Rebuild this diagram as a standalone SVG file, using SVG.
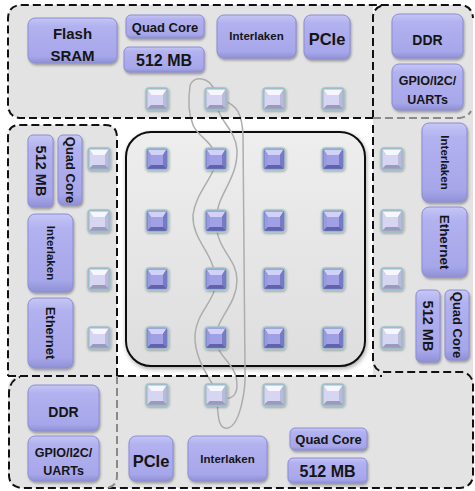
<svg xmlns="http://www.w3.org/2000/svg" width="475" height="491" viewBox="0 0 475 491">
<style>
.reg{fill:#e3e3e3}
.dash{fill:none;stroke:#111;stroke-width:2;stroke-dasharray:8 4}
.dashg{fill:none;stroke:#8a8a8a;stroke-width:2;stroke-dasharray:8 4}
.box{fill:url(#boxg);stroke:#8c8cd4;stroke-width:1;filter:url(#sh)}
.t{font-family:"Liberation Sans",Arial,sans-serif;font-weight:bold;fill:#151515;text-anchor:middle}
.wire{fill:none;stroke:#adadad;stroke-width:1.5}
</style>
<defs>
<linearGradient id="boxg" x1="0" y1="0" x2="0" y2="1">
<stop offset="0" stop-color="#c6c6f6"/>
<stop offset="0.18" stop-color="#b2b2f0"/>
<stop offset="0.85" stop-color="#a6a6ea"/>
<stop offset="1" stop-color="#9090d6"/>
</linearGradient>
<linearGradient id="frameg" x1="0" y1="0" x2="0" y2="1">
<stop offset="0" stop-color="#eeeeee"/>
<stop offset="0.5" stop-color="#e6e6e6"/>
<stop offset="1" stop-color="#dedede"/>
</linearGradient>
<filter id="sh" x="-20%" y="-20%" width="140%" height="150%">
<feDropShadow dx="1" dy="2" stdDeviation="1.2" flood-color="#444" flood-opacity="0.45"/>
</filter>
<filter id="fsh" x="-10%" y="-10%" width="120%" height="120%">
<feDropShadow dx="1" dy="2" stdDeviation="2" flood-color="#333" flood-opacity="0.4"/>
</filter>
<filter id="ssh" x="-30%" y="-30%" width="160%" height="160%">
<feDropShadow dx="0.5" dy="1" stdDeviation="0.8" flood-color="#333" flood-opacity="0.4"/>
</filter>
<g id="sqc" filter="url(#ssh)">
<rect x="-11" y="-11" width="22" height="22" rx="3" fill="#7474c0" stroke="#a4cacc" stroke-width="1.3"/>
<polygon points="-9.5,-9.5 9.5,-9.5 6,-4 -6,-4" fill="#d2d2f8"/>
<polygon points="-9.5,-9.5 -6,-4 -6,6 -9.5,9.5" fill="#9a9ade"/>
<polygon points="9.5,-9.5 6,-4 6,6 9.5,9.5" fill="#7a7ac4"/>
<polygon points="-9.5,9.5 -6,6 6,6 9.5,9.5" fill="#6262aa"/>
<rect x="-6" y="-4" width="12" height="10" fill="#a0a0e6"/>
</g>
<g id="sqp" filter="url(#ssh)">
<rect x="-11" y="-11" width="22" height="22" rx="3" fill="#ababcc" stroke="#9cc4c6" stroke-width="1.3"/>
<polygon points="-9.5,-9.5 9.5,-9.5 6,-4 -6,-4" fill="#f6f6ff"/>
<polygon points="-9.5,-9.5 -6,-4 -6,6 -9.5,9.5" fill="#d6d6f0"/>
<polygon points="9.5,-9.5 6,-4 6,6 9.5,9.5" fill="#babada"/>
<polygon points="-9.5,9.5 -6,6 6,6 9.5,9.5" fill="#9a9abc"/>
<rect x="-6" y="-4" width="12" height="10" fill="#d6d6f2"/>
</g>
</defs>
<rect width="475" height="491" fill="#ffffff"/>
<g id="regions">
<path class="reg" d="M22,5 H373 V118 H22 Q8,118 8,104 V19 Q8,5 22,5 Z"/>
<path class="reg" d="M387,5 H460 Q473,5 473,18 V380 H373 V19 Q373,5 387,5 Z"/>
<path class="reg" d="M20,125 H105 Q117,125 117,137 V377 H8 V137 Q8,125 20,125 Z"/>
<path class="reg" d="M22,376 H473 V474 Q473,488 459,488 H22 Q8,488 8,474 V390 Q8,376 22,376 Z"/>
</g>
<g id="core">
<rect x="126" y="132" width="239" height="234" rx="25" fill="url(#frameg)" stroke="#111" stroke-width="2" filter="url(#fsh)"/>
</g>
<g id="connectors">
<path class="wire" d="M214,90 C211,78 193,74 190,86 C188,100 189,115 193,125 C198,137 211,140 216,155 C218,175 196,190 193,215 C192,240 213,252 216,279 C217,300 196,312 195,335 C194,355 205,372 216,390"/>
<path class="wire" d="M217,105 C218,120 236,130 237,150 C238,180 216,195 216,221 C216,250 237,258 237,280 C237,305 216,318 216,338 C216,358 237,362 237,385 C237,395 232,400 222,398"/>
<path class="wire" d="M222,100 C238,105 242,115 243,135 L245,370 C246,390 240,425 228,428 C218,430 218,415 217,400"/>
</g>
<g id="borders">
<path class="dash" d="M373,118 H22 Q8,118 8,104 V19 Q8,5 22,5 H461 Q472,6 473,18"/>
<path class="dash" d="M373,118 V16 Q374,7 384,5"/>
<path class="dashg" d="M373,118 H460 Q468,117 471,111"/>
<path class="dash" d="M373,125 V360 Q374,372 386,372 H462 Q470,373 473,382 V476 Q472,487 460,488 H24 Q10,488 9,476 V392 Q10,380 20,377"/>
<path class="dash" d="M117,376 V137 Q117,125 105,125 H20 Q8,125 8,137 V376"/>
<path class="dash" d="M8,376 H382"/>
<path class="dashg" d="M117,376 V476 Q117,487 106,488"/>
</g>
<g id="routers">
<use href="#sqc" x="157" y="159"/><use href="#sqc" x="216" y="159"/><use href="#sqc" x="274" y="159"/><use href="#sqc" x="333" y="159"/>
<use href="#sqc" x="157" y="221"/><use href="#sqc" x="216" y="221"/><use href="#sqc" x="274" y="221"/><use href="#sqc" x="333" y="221"/>
<use href="#sqc" x="157" y="279"/><use href="#sqc" x="216" y="279"/><use href="#sqc" x="274" y="279"/><use href="#sqc" x="333" y="279"/>
<use href="#sqc" x="157" y="338"/><use href="#sqc" x="216" y="338"/><use href="#sqc" x="274" y="338"/><use href="#sqc" x="333" y="338"/>
</g>
<g id="ports">
<use href="#sqp" x="157" y="99"/><use href="#sqp" x="216" y="99"/><use href="#sqp" x="274" y="99"/><use href="#sqp" x="333" y="99"/>
<use href="#sqp" x="157" y="395"/><use href="#sqp" x="216" y="395"/><use href="#sqp" x="274" y="395"/><use href="#sqp" x="333" y="395"/>
<use href="#sqp" x="99" y="159"/><use href="#sqp" x="99" y="221"/><use href="#sqp" x="99" y="279"/><use href="#sqp" x="99" y="338"/>
<use href="#sqp" x="392" y="159"/><use href="#sqp" x="392" y="221"/><use href="#sqp" x="392" y="279"/><use href="#sqp" x="392" y="338"/>
</g>
<g id="top-flash"><rect class="box" x="28" y="18" width="89" height="45" rx="7"/><text class="t" x="72.5" y="39" font-size="15">Flash</text><text class="t" x="72.5" y="61" font-size="15">SRAM</text></g>
<g id="top-quadcore"><rect class="box" x="126" y="15" width="78" height="23" rx="5"/><text class="t" x="165" y="32" font-size="13">Quad Core</text></g>
<g id="top-512mb"><rect class="box" x="124" y="47" width="80" height="25" rx="5"/><text class="t" x="164" y="65.5" font-size="16">512 MB</text></g>
<g id="top-interlaken"><rect class="box" x="217" y="15" width="79" height="43" rx="7"/><text class="t" x="256.5" y="40" font-size="11.5">Interlaken</text></g>
<g id="top-pcie"><rect class="box" x="304" y="15" width="46" height="44" rx="7"/><text class="t" x="327" y="45" font-size="16.5">PCIe</text></g>
<g id="top-ddr"><rect class="box" x="392" y="14" width="71" height="44" rx="7"/><text class="t" x="427.5" y="45" font-size="14">DDR</text></g>
<g id="top-gpio"><rect class="box" x="392" y="64" width="71" height="46" rx="7"/><text class="t" x="427.5" y="85" font-size="12.5">GPIO/I2C/</text><text class="t" x="427.5" y="104" font-size="12.5">UARTs</text></g>
<g id="left-512mb"><rect class="box" x="28" y="135" width="25" height="72" rx="5"/><text class="t" transform="translate(40.5,171) rotate(90)" y="5" font-size="14.5">512 MB</text></g>
<g id="left-quadcore"><rect class="box" x="58" y="135" width="24" height="70" rx="5"/><text class="t" transform="translate(70,170) rotate(90)" y="4.5" font-size="13">Quad Core</text></g>
<g id="left-interlaken"><rect class="box" x="28" y="214" width="45" height="78" rx="7"/><text class="t" transform="translate(50.5,253) rotate(90)" y="4" font-size="11.5">Interlaken</text></g>
<g id="left-ethernet"><rect class="box" x="28" y="298" width="45" height="70" rx="7"/><text class="t" transform="translate(50.5,333) rotate(90)" y="4.5" font-size="13">Ethernet</text></g>
<g id="right-interlaken"><rect class="box" x="422" y="123" width="45" height="79" rx="7"/><text class="t" transform="translate(444.5,162.5) rotate(90)" y="4" font-size="11.5">Interlaken</text></g>
<g id="right-ethernet"><rect class="box" x="422" y="207" width="45" height="70" rx="7"/><text class="t" transform="translate(444.5,242) rotate(90)" y="4.5" font-size="13.5">Ethernet</text></g>
<g id="right-512mb"><rect class="box" x="416" y="290" width="24" height="72" rx="5"/><text class="t" transform="translate(428,326) rotate(90)" y="5" font-size="14.5">512 MB</text></g>
<g id="right-quadcore"><rect class="box" x="445" y="290" width="24" height="70" rx="5"/><text class="t" transform="translate(457,325) rotate(90)" y="4.5" font-size="13">Quad Core</text></g>
<g id="bottom-ddr"><rect class="box" x="28" y="385" width="71" height="46" rx="7"/><text class="t" x="63.5" y="417" font-size="14">DDR</text></g>
<g id="bottom-gpio"><rect class="box" x="28" y="436" width="71" height="45" rx="7"/><text class="t" x="63.5" y="457" font-size="12.5">GPIO/I2C/</text><text class="t" x="63.5" y="475" font-size="12.5">UARTs</text></g>
<g id="bottom-pcie"><rect class="box" x="129" y="436" width="44" height="45" rx="7"/><text class="t" x="151" y="467" font-size="16.5">PCIe</text></g>
<g id="bottom-interlaken"><rect class="box" x="188" y="436" width="79" height="45" rx="7"/><text class="t" x="227.5" y="463" font-size="11.5">Interlaken</text></g>
<g id="bottom-quadcore"><rect class="box" x="290" y="428" width="77" height="22" rx="5"/><text class="t" x="328.5" y="443.5" font-size="13">Quad Core</text></g>
<g id="bottom-512mb"><rect class="box" x="288" y="458" width="79" height="25" rx="5"/><text class="t" x="327.5" y="477" font-size="16">512 MB</text></g>
</svg>
